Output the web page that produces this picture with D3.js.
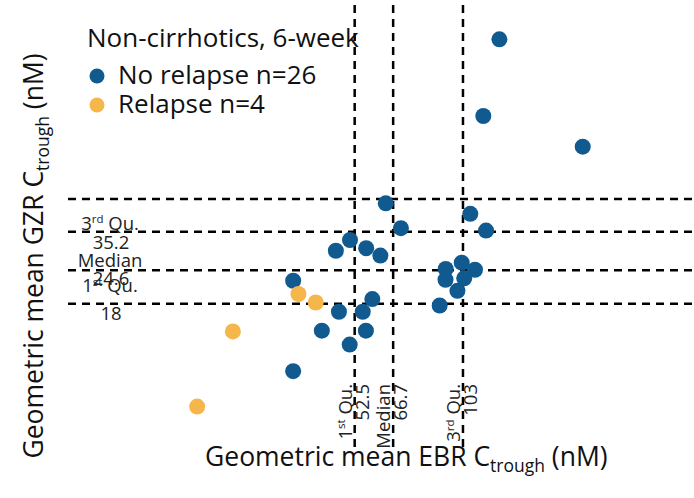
<!DOCTYPE html>
<html>
<head>
<meta charset="utf-8">
<script src="https://cdn.jsdelivr.net/npm/d3@7"></script>
<style>
  body { margin: 0; background: #fff; }
  svg { display: block; font-family: "Open Sans", Lato, sans-serif; }
</style>
</head>
<body>
<div id="chart"></div>
<script>
// geometric mean Ctrough (nM) per patient
const noRelapseEBR = [129.2, 116.9, 217.0, 107.8, 118.9, 102.2, 92.5, 111.0, 92.4, 103.8, 99.5, 89.1, 63.7,
    70.0, 51.0, 46.7, 56.4, 61.6, 58.6, 47.6, 55.2, 56.3, 50.9, 35.8, 42.8, 35.8];
const noRelapseGZR = [211.8, 103.6, 77.8, 41.6, 35.6, 26.4, 24.9, 24.7, 22.5, 22.8, 20.3, 17.7, 45.9,
    36.4, 32.6, 29.5, 30.2, 28.2, 18.8, 16.7, 16.7, 14.0, 12.3, 22.3, 14.0, 9.6];
const relapseEBR = [37.0, 41.2, 24.6, 19.7];
const relapseGZR = [19.7, 18.2, 13.9, 6.9];

// quartile reference lines
const quartileNames = ["1st", "Median", "3rd"];
const ebrQuartiles = [52.5, 66.7, 103];
const gzrQuartiles = [18, 24.6, 35.2];
const gzrUpperLine = 47.8;

const legendTitle = "Non-cirrhotics, 6-week";
const legendLabels = ["No relapse n=26", "Relapse n=4"];

const width = 694, height = 498;
const blue = "#105a90", orange = "#f5b64b";

const svg = d3.select("#chart").append("svg")
    .attr("width", width)
    .attr("height", height);

const x = d3.scaleLog().domain([10, 400]).range([88.2, 681.0]);
const y = d3.scaleLog().domain([5, 250]).range([441.1, 21.5]);

const dash = "8,6";

// horizontal reference lines
svg.selectAll(".hline")
    .data(gzrQuartiles.concat([gzrUpperLine]))
    .enter().append("line")
    .attr("class", "hline")
    .attr("x1", 68).attr("x2", width)
    .attr("y1", d => y(d)).attr("y2", d => y(d))
    .attr("stroke", "#000")
    .attr("stroke-width", 2.5)
    .attr("stroke-dasharray", dash);

// vertical reference lines
svg.selectAll(".vline")
    .data(ebrQuartiles)
    .enter().append("line")
    .attr("class", "vline")
    .attr("x1", d => x(d)).attr("x2", d => x(d))
    .attr("y1", 5).attr("y2", 452)
    .attr("stroke", "#000")
    .attr("stroke-width", 2.5)
    .attr("stroke-dasharray", dash);

function quartileName(t, name) {
    if (name === "Median") {
        t.text("Median");
        return;
    }
    const num = name[0], sup = name.slice(1);
    t.append("tspan").text(num);
    t.append("tspan").attr("font-size", "0.62em").attr("dy", "-0.55em").text(sup);
    t.append("tspan").attr("dy", "0.34em").text(" Qu.");
}

// labels of horizontal lines, left side
const hNameOffset = [-11.5, -3.5, -2];
const hValueOffset = [16.5, 15, 17];
const labelSize = 18.5;

gzrQuartiles.forEach((v, i) => {
    const t = svg.append("text")
        .attr("x", 110)
        .attr("y", y(v) + hNameOffset[i])
        .attr("text-anchor", "middle")
        .attr("font-size", labelSize)
        .attr("fill", "#222");
    quartileName(t, quartileNames[i]);
    svg.append("text")
        .attr("x", 111)
        .attr("y", y(v) + hValueOffset[i])
        .attr("text-anchor", "middle")
        .attr("font-size", labelSize)
        .attr("fill", "#222")
        .text(v);
});

// labels of vertical lines, rotated
ebrQuartiles.forEach((v, i) => {
    const g = svg.append("g")
        .attr("transform", `translate(${x(v)},384) rotate(-90)`);
    const t = g.append("text")
        .attr("x", 0).attr("y", -3)
        .attr("text-anchor", "end")
        .attr("font-size", labelSize)
        .attr("fill", "#222");
    quartileName(t, quartileNames[i]);
    g.append("text")
        .attr("x", 0).attr("y", 14)
        .attr("text-anchor", "end")
        .attr("font-size", labelSize)
        .attr("fill", "#222")
        .text(v);
});

// points
svg.selectAll(".noRelapse")
    .data(d3.zip(noRelapseEBR, noRelapseGZR))
    .enter().append("circle")
    .attr("class", "noRelapse")
    .attr("cx", d => x(d[0]))
    .attr("cy", d => y(d[1]))
    .attr("r", 8)
    .attr("fill", blue);

svg.selectAll(".relapse")
    .data(d3.zip(relapseEBR, relapseGZR))
    .enter().append("circle")
    .attr("class", "relapse")
    .attr("cx", d => x(d[0]))
    .attr("cy", d => y(d[1]))
    .attr("r", 8)
    .attr("fill", orange);

// legend
svg.append("text")
    .attr("x", 87).attr("y", 47)
    .attr("font-size", 26)
    .attr("fill", "#111")
    .text(legendTitle);

const legend = svg.selectAll(".legendItem")
    .data(legendLabels)
    .enter().append("g")
    .attr("class", "legendItem")
    .attr("transform", (d, i) => `translate(97,${76 + i * 29})`);

legend.append("circle")
    .attr("r", 7.5)
    .attr("fill", (d, i) => i === 0 ? blue : orange);

legend.append("text")
    .attr("x", 21).attr("y", 8)
    .attr("font-size", 26)
    .attr("fill", "#111")
    .text(d => d);

// axis titles
function axisTitle(t, drug) {
    t.append("tspan").text(`Geometric mean ${drug} C`);
    t.append("tspan").attr("font-size", "0.66em").attr("dy", "0.32em").text("trough");
    t.append("tspan").attr("dy", "-0.21em").text(" (nM)");
}

axisTitle(svg.append("text")
    .attr("x", 205).attr("y", 466)
    .attr("font-size", 26.5)
    .attr("fill", "#111"), "EBR");

axisTitle(svg.append("text")
    .attr("transform", "translate(43,256) rotate(-90)")
    .attr("text-anchor", "middle")
    .attr("font-size", 26.5)
    .attr("fill", "#111"), "GZR");
</script>
</body>
</html>
